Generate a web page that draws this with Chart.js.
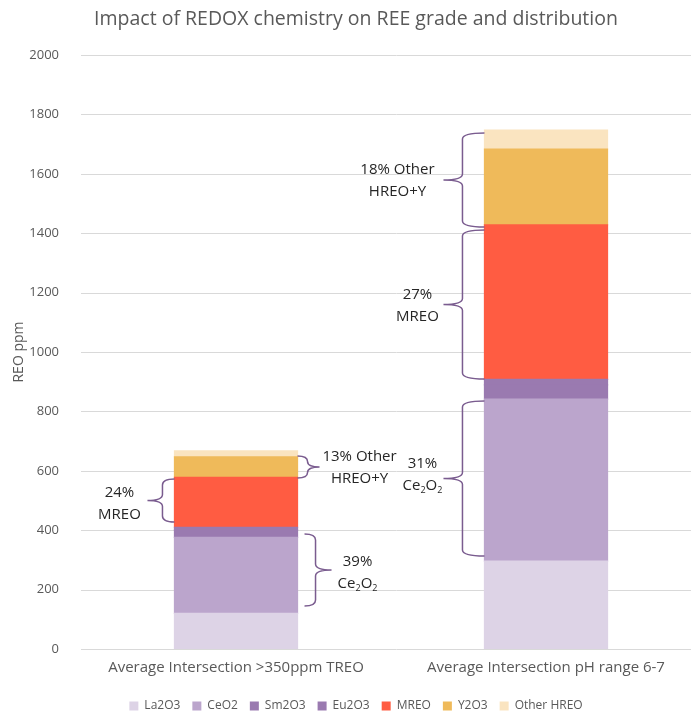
<!DOCTYPE html>
<html>
<head>
<meta charset="utf-8">
<script src="https://cdn.jsdelivr.net/npm/chart.js@4"></script>
<style>
  html, body { margin: 0; padding: 0; background: #fff; overflow: hidden; }
  #wrap { width: 712px; height: 713px; }
</style>
</head>
<body>
<div id="wrap"><canvas id="c" width="712" height="713"></canvas></div>
<script>
// Sample groups
const categories = ['Average Intersection >350ppm TREO', 'Average Intersection pH range 6-7'];

// Oxide grades, ppm (stacked bottom to top)
const la2o3     = [120, 296];
const ceo2      = [256, 545];
const sm2o3     = [24, 48];
const eu2o3     = [10, 19];
const mreo      = [168, 520];
const y2o3      = [69, 255];
const otherHreo = [20, 64];

const seriesNames = ['La2O3', 'CeO2', 'Sm2O3', 'Eu2O3', 'MREO', 'Y2O3', 'Other HREO'];
const seriesValues = [la2o3, ceo2, sm2o3, eu2o3, mreo, y2o3, otherHreo];
const seriesColors = ['#ddd3e6', '#bba5cc', '#9a7ab0', '#9a7ab0', '#ff5c42', '#efba5a', '#fae4c0'];

const yTicks = [0, 200, 400, 600, 800, 1000, 1200, 1400, 1600, 1800, 2000];

// Brace call-outs: which bar, which side, value span, and the two text lines
const callouts = [
  { bar: 0, side: 'right', from: 576, to: 650, lines: ['13% Other', 'HREO+Y'], gap: 0,  arm: 10, tip: 22, dx: 40, dy: 1 },
  { bar: 0, side: 'right', from: 145, to: 387, lines: ['39%', 'Ce|2|O|2'],    gap: 7,  arm: 11, tip: 27, dx: 26, dy: 3 },
  { bar: 0, side: 'left',  from: 428, to: 572, lines: ['24%', 'MREO'],        gap: 0,  arm: 12, tip: 27, dx: 28, dy: 3 },
  { bar: 1, side: 'left',  from: 1421, to: 1737, lines: ['18% Other', 'HREO+Y'], gap: 0, arm: 22, tip: 41, dx: 46, dy: 1 },
  { bar: 1, side: 'left',  from: 909, to: 1411, lines: ['27%', 'MREO'],       gap: 0,  arm: 22, tip: 41, dx: 26, dy: 1 },
  { bar: 1, side: 'left',  from: 313, to: 835,  lines: ['31%', 'Ce|2|O|2'],   gap: 0,  arm: 22, tip: 41, dx: 21, dy: -4 }
];

const FONT = '"Open Sans", "Liberation Sans", sans-serif';

// Horizontal gridlines running from the plot's left edge to the page edge
const gridPlugin = {
  id: 'gridLines',
  beforeDatasetsDraw(chart) {
    const { ctx, scales: { y }, chartArea } = chart;
    ctx.save();
    ctx.strokeStyle = '#d9d9d9';
    ctx.lineWidth = 1;
    yTicks.forEach(v => {
      const py = Math.round(y.getPixelForValue(v)) + 0.5;
      ctx.beginPath();
      ctx.moveTo(chartArea.left, py);
      ctx.lineTo(chart.width, py);
      ctx.stroke();
    });
    ctx.restore();
  }
};

function drawRichLine(ctx, text, cx, cy, size) {
  // "|" separates normal and subscript runs: odd pieces are subscripts
  const parts = text.split('|');
  const big = size + 'px ' + FONT;
  const small = Math.round(size * 0.62) + 'px ' + FONT;
  let w = 0;
  parts.forEach((p, i) => { ctx.font = i % 2 ? small : big; w += ctx.measureText(p).width; });
  let x = cx - w / 2;
  ctx.textAlign = 'left';
  parts.forEach((p, i) => {
    ctx.font = i % 2 ? small : big;
    ctx.fillText(p, x, i % 2 ? cy + size * 0.3 : cy);
    x += ctx.measureText(p).width;
  });
}

// Curly braces with their percentage notes
const bracePlugin = {
  id: 'braces',
  afterDatasetsDraw(chart) {
    const { ctx, scales: { y } } = chart;
    const meta = chart.getDatasetMeta(0);
    ctx.save();
    callouts.forEach(c => {
      const bar = meta.data[c.bar];
      const half = bar.width / 2;
      const dir = c.side === 'right' ? 1 : -1;
      const edge = bar.x + dir * half;
      const xe = edge + dir * c.gap;
      const xv = xe + dir * c.arm;
      const xt = xe + dir * c.tip;
      const yt = y.getPixelForValue(c.to);
      const yb = y.getPixelForValue(c.from);
      const ym = (yt + yb) / 2;
      const r = Math.min(6, (yb - yt) / 4);
      ctx.strokeStyle = '#7a5c8f';
      ctx.lineWidth = 1.5;
      ctx.beginPath();
      ctx.moveTo(xe, yt);
      ctx.quadraticCurveTo(xv, yt, xv, yt + r);
      ctx.lineTo(xv, ym - r);
      ctx.quadraticCurveTo(xv, ym, xt, ym);
      ctx.quadraticCurveTo(xv, ym, xv, ym + r);
      ctx.lineTo(xv, yb - r);
      ctx.quadraticCurveTo(xv, yb, xe, yb);
      ctx.stroke();

      ctx.fillStyle = '#262626';
      ctx.textBaseline = 'middle';
      const cx = xt + dir * c.dx;
      const cy = ym + c.dy;
      drawRichLine(ctx, c.lines[0], cx, cy - 11, 15);
      drawRichLine(ctx, c.lines[1], cx, cy + 11, 15);
    });
    ctx.restore();
  }
};

new Chart(document.getElementById('c'), {
  type: 'bar',
  data: {
    labels: categories,
    datasets: seriesNames.map((name, i) => ({
      label: name,
      data: seriesValues[i],
      backgroundColor: seriesColors[i],
      borderWidth: 0,
      inflateAmount: 0.6,
      categoryPercentage: 0.397,
      barPercentage: 1
    }))
  },
  options: {
    responsive: false,
    animation: false,
    layout: { padding: { left: 11, right: 11, top: 6, bottom: -9 } },
    plugins: {
      title: {
        display: true,
        text: 'Impact of REDOX chemistry on REE grade and distribution',
        color: '#595959',
        font: { family: FONT, size: 19.5, weight: 'normal' },
        padding: { top: 2, bottom: 23.6 }
      },
      legend: {
        position: 'bottom',
        labels: {
          color: '#595959',
          font: { family: FONT, size: 12 },
          boxWidth: 9,
          boxHeight: 9,
          padding: 12
        }
      },
      tooltip: { enabled: false }
    },
    scales: {
      x: {
        stacked: true,
        grid: { display: false },
        border: { display: false },
        afterFit(scale) { scale.height = 39; },
        ticks: { color: '#595959', font: { family: FONT, size: 15 }, padding: 2, maxRotation: 0 }
      },
      y: {
        stacked: true,
        min: 0,
        max: 2000,
        afterBuildTicks(scale) { scale.ticks = yTicks.map(v => ({ value: v })); },
        afterFit(scale) { scale.width = 70; },
        grid: { display: false },
        border: { display: false },
        ticks: {
          color: '#595959',
          font: { family: FONT, size: 13 },
          padding: 14,
          callback: v => String(v)
        },
        title: {
          display: true,
          text: 'REO ppm',
          color: '#595959',
          font: { family: FONT, size: 14 },
          padding: 0
        }
      }
    }
  },
  plugins: [gridPlugin, bracePlugin]
});
</script>
</body>
</html>
